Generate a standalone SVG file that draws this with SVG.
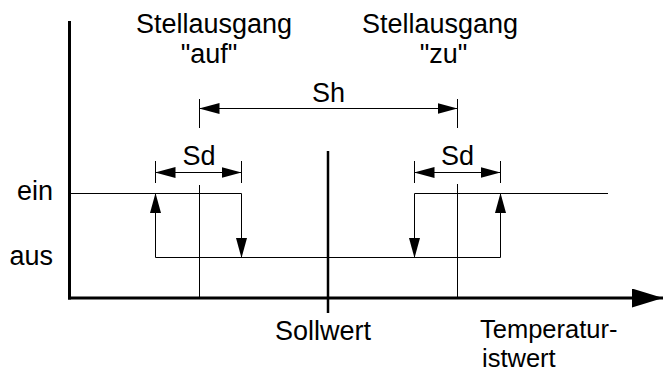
<svg xmlns="http://www.w3.org/2000/svg" width="665" height="372" viewBox="0 0 665 372">
<defs>
<style>
text{font-family:"Liberation Sans",Arial,sans-serif;font-size:27px;fill:#000}
.mid{text-anchor:middle}
.end{text-anchor:end}
.thin{stroke:#000;stroke-width:1;fill:none}
.axis{stroke:#000;stroke-width:3;fill:none}
.arr{marker-end:url(#ah)}
.dim{marker-start:url(#ah);marker-end:url(#ah)}
</style>
<marker id="ah" markerUnits="userSpaceOnUse" markerWidth="20" markerHeight="11" refX="20" refY="5.5" orient="auto-start-reverse" viewBox="0 0 20 11">
<path d="M0,0 L20,5.5 L0,11 z" fill="#000"/>
</marker>
<marker id="axh" markerUnits="userSpaceOnUse" markerWidth="31" markerHeight="19" refX="31" refY="9.5" orient="auto" viewBox="0 0 31 19">
<path d="M0,0 L31,9.5 L0,19 z" fill="#000"/>
</marker>
</defs>
<g id="axes">
<line class="axis" x1="69.5" y1="21" x2="69.5" y2="299.5"/>
<line class="axis" x1="68" y1="298" x2="663" y2="298" marker-end="url(#axh)"/>
</g>
<g id="sollwert">
<line x1="328" y1="151" x2="328" y2="313" stroke="#000" stroke-width="2.5"/>
<text class="mid" x="323" y="340">Sollwert</text>
</g>
<g id="istwert">
<text x="480" y="338" style="font-size:25.5px">Temperatur-<tspan x="482" dy="29">istwert</tspan></text>
</g>
<g id="ein-aus">
<text class="end" x="53" y="200">ein</text>
<text class="end" x="53" y="265">aus</text>
</g>
<g id="stellausgang-auf">
<text class="mid" x="214" y="33">Stellausgang<tspan x="209" dy="30">"auf"</tspan></text>
<line class="thin" x1="199.5" y1="99" x2="199.5" y2="128"/>
<line class="thin" x1="199.5" y1="185" x2="199.5" y2="297"/>
</g>
<g id="stellausgang-zu">
<text class="mid" x="440" y="33">Stellausgang<tspan x="443.5" dy="30">"zu"</tspan></text>
<line class="thin" x1="457.5" y1="99" x2="457.5" y2="128"/>
<line class="thin" x1="457.5" y1="184" x2="457.5" y2="297"/>
</g>
<g id="sh">
<text class="mid" x="328.5" y="101.5">Sh</text>
<line class="thin dim" x1="199.5" y1="108.5" x2="457.5" y2="108.5"/>
</g>
<g id="sd-left">
<text class="mid" x="199" y="165">Sd</text>
<line class="thin" x1="155.5" y1="161" x2="155.5" y2="183"/>
<line class="thin" x1="241.5" y1="161" x2="241.5" y2="183"/>
<line class="thin dim" x1="155.5" y1="172.5" x2="241.5" y2="172.5"/>
</g>
<g id="sd-right">
<text class="mid" x="457.5" y="165">Sd</text>
<line class="thin" x1="414.5" y1="161" x2="414.5" y2="183"/>
<line class="thin" x1="500.5" y1="161" x2="500.5" y2="183"/>
<line class="thin dim" x1="414.5" y1="172.5" x2="500.5" y2="172.5"/>
</g>
<g id="connectors">
<polyline class="thin" points="69,193.5 241.5,193.5"/>
<line class="thin arr" x1="241.5" y1="193.5" x2="241.5" y2="258"/>
<line class="thin" x1="155.5" y1="257.5" x2="500.5" y2="257.5" stroke="#444"/>
<line class="thin arr" x1="155.5" y1="257.5" x2="155.5" y2="193"/>
<polyline class="thin" points="414.5,193.5 608,193.5"/>
<line class="thin arr" x1="414.5" y1="193.5" x2="414.5" y2="258"/>
<line class="thin arr" x1="500.5" y1="257.5" x2="500.5" y2="193"/>
</g>
</svg>
